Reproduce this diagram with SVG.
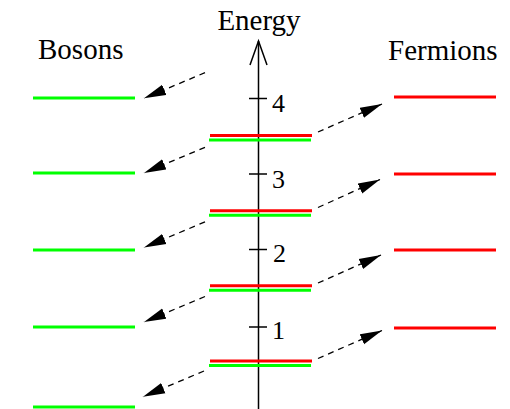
<svg xmlns="http://www.w3.org/2000/svg" width="510" height="409" viewBox="0 0 510 409">
<style>
  text { font-family: "Liberation Serif", "Times New Roman", serif; fill: #000; }
  .title { font-size: 29px; }
  .num { font-size: 26px; }
  .b { stroke: #00ff00; stroke-width: 3; fill: none; }
  .f { stroke: #ff0000; stroke-width: 3; fill: none; }
  .axis { stroke: #000; stroke-width: 1.5; fill: none; }
  .tick { stroke: #000; stroke-width: 1.5; }
  .conn { stroke: #000; stroke-width: 1.3; stroke-dasharray: 6 5; fill: none; marker-end: url(#ah); }
</style>
<defs>
  <marker id="ah" markerUnits="userSpaceOnUse" markerWidth="22" markerHeight="12" viewBox="0 0 20 10" refX="20" refY="5" orient="auto">
    <path d="M0,0 L20,5 L0,10 z" fill="#000" stroke="none"/>
  </marker>
</defs>
<rect width="510" height="409" fill="#fff"/>

<g id="axis">
  <line class="axis" x1="258.5" y1="41" x2="258.5" y2="409"/>
  <polyline class="axis" points="250,65 258.5,41 267,65"/>
  <text class="title" x="259" y="30" text-anchor="middle">Energy</text>
  <line class="tick" x1="249" y1="98.5" x2="267" y2="98.5"/>
  <line class="tick" x1="249" y1="174" x2="267" y2="174"/>
  <line class="tick" x1="249" y1="249.5" x2="267" y2="249.5"/>
  <line class="tick" x1="249" y1="327" x2="267" y2="327"/>
  <text class="num" x="272" y="112">4</text>
  <text class="num" x="272" y="188">3</text>
  <text class="num" x="273" y="262">2</text>
  <text class="num" x="272" y="339">1</text>
</g>

<g id="bosons">
  <text class="title" x="38" y="59">Bosons</text>
  <line class="b" x1="33" y1="98" x2="135" y2="98"/>
  <line class="b" x1="33" y1="173" x2="135" y2="173"/>
  <line class="b" x1="33" y1="250" x2="135" y2="250"/>
  <line class="b" x1="33" y1="327" x2="135" y2="327"/>
  <line class="b" x1="33" y1="407" x2="135" y2="407"/>
</g>

<g id="fermions">
  <text class="title" x="388" y="60">Fermions</text>
  <line class="f" x1="394" y1="97" x2="496" y2="97"/>
  <line class="f" x1="394" y1="174" x2="496" y2="174"/>
  <line class="f" x1="394" y1="250" x2="496" y2="250"/>
  <line class="f" x1="394" y1="328" x2="496" y2="328"/>
</g>

<g id="pairs">
  <line class="f" x1="210" y1="135.5" x2="312" y2="135.5"/>
  <line class="b" x1="209" y1="140" x2="311" y2="140"/>
  <line class="f" x1="210" y1="210.7" x2="312" y2="210.7"/>
  <line class="b" x1="209" y1="215.2" x2="311" y2="215.2"/>
  <line class="f" x1="210" y1="285.8" x2="312" y2="285.8"/>
  <line class="b" x1="209" y1="290.3" x2="311" y2="290.3"/>
  <line class="f" x1="210" y1="361" x2="312" y2="361"/>
  <line class="b" x1="209" y1="365.5" x2="311" y2="365.5"/>
</g>

<g id="connectors">
  <line class="conn" x1="205" y1="72.7" x2="144" y2="98.3"/>
  <line class="conn" x1="205" y1="147.3" x2="144" y2="172.9"/>
  <line class="conn" x1="205" y1="221.9" x2="144" y2="247.5"/>
  <line class="conn" x1="205" y1="296.5" x2="144" y2="322.1"/>
  <line class="conn" x1="204" y1="371" x2="143" y2="396.7"/>
  <line class="conn" x1="318" y1="132" x2="382" y2="104"/>
  <line class="conn" x1="318" y1="207.5" x2="380" y2="179.5"/>
  <line class="conn" x1="318" y1="283" x2="381" y2="255"/>
  <line class="conn" x1="318" y1="358.5" x2="382" y2="330.5"/>
</g>
</svg>
